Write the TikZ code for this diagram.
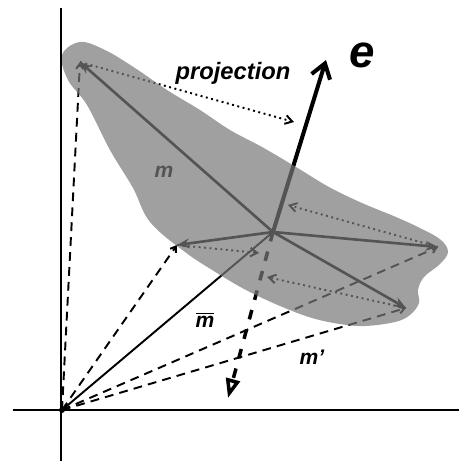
\documentclass[tikz,border=0pt]{standalone}
\usepackage{fontspec}
\setmainfont{Liberation Sans}
\usetikzlibrary{arrows.meta,calc}
\definecolor{blobgray}{RGB}{120,120,120}

\begin{document}
\begin{tikzpicture}[
    x=0.02cm, y=-0.02cm,
    axis/.style={line width=0.9pt},
    vec/.style={line width=1.5pt, -{Stealth[length=7pt,width=5.5pt]}},
    proj/.style={line width=1.1pt, dash pattern=on 1.1pt off 2pt, -{Straight Barb[length=4pt,width=5pt]}},
    dev/.style={line width=1.1pt, dash pattern=on 5pt off 3.5pt, -{Straight Barb[length=3pt,width=4pt]}},
    negaxis/.style={line width=2pt, dash pattern=on 5.5pt off 6pt, -{Triangle[open,length=11pt,width=8pt]}},
    eaxis/.style={line width=2.3pt},
    lbl/.style={font=\bfseries\itshape\fontsize{12}{14}\selectfont, inner sep=1pt},
    blob/.style={fill=blobgray, fill opacity=0.7, draw=none}
]
    \useasboundingbox (0,0) rectangle (459,461);

    % origin, mean and samples
    \coordinate (O) at (62,410);
    \coordinate (C) at (273,232);
    \coordinate (P1) at (80,62);
    \coordinate (P2) at (177,245);
    \coordinate (P3) at (438,247);
    \coordinate (P4) at (406,308);
    % points on the e line
    \coordinate (etip) at (326,60);
    \coordinate (esplit) at ($(C)!0.48!(etip)$);
    \coordinate (ebot) at (228,398);
    \coordinate (Q1) at (294,122);
    \coordinate (Q2) at (259,253);
    \coordinate (Q3) at (288,205);
    \coordinate (Q4) at (267,277);
    % axes
    \coordinate (ytop) at (61,8);
    \coordinate (ybot) at (61,461);
    \coordinate (xleft) at (13,410);
    \coordinate (xright) at (459,410);

    % lines under the cloud
    \draw[eaxis, black] (C) -- (esplit);
    \draw[negaxis] (C) -- (ebot);
    \draw[line width=1.1pt] (O) -- (C);
    \foreach \p in {P1,P2,P3,P4}
        \draw[dev] (O) -- (\p);
    \foreach \p in {P1,P2,P3,P4}
        \draw[vec] (C) -- (\p);
    \draw[proj] (P1) -- (Q1);
    \draw[proj] (P2) -- (Q2);
    \draw[proj] (P3) -- (Q3);
    \draw[proj] (P4) -- (Q4);
    \node[lbl] (lblm) at (164,172) {m};

    % the cloud
    \fill[blob] plot[smooth cycle, tension=0.6] coordinates {
        (62,55) (80,42) (105,50) (135,68) (167,90) (200,110) (230,130)
        (262,147) (296,167) (329,187) (362,203) (396,217) (422,229)
        (441,240) (448,252) (440,264) (424,277) (418,290) (419,303)
        (410,315) (395,322) (365,326) (340,324) (312,318) (280,306)
        (246,290) (217,273) (185,252) (150,222) (133,188) (110,150)
        (87,105) (68,80)};

    % on top
    \draw[axis] (ybot) -- (ytop);
    \draw[axis] (xleft) -- (xright);
    \fill (O) circle (3);
    \draw[eaxis, -{Straight Barb[length=8pt,width=11pt]}] (esplit) -- (etip);
    \node[lbl, font=\bfseries\itshape\fontsize{13.5}{15}\selectfont] (lblproj) at (233,73) {projection};
    \node[lbl, font=\bfseries\itshape\fontsize{26}{28}\selectfont] (lble) at (362,55) {e};
    \node[lbl] (lblmean) at (205,320) {\ensuremath{\overline{\mbox{m}}}};
    \node[lbl] (lblmp) at (312,357) {m'};
\end{tikzpicture}
\end{document}
